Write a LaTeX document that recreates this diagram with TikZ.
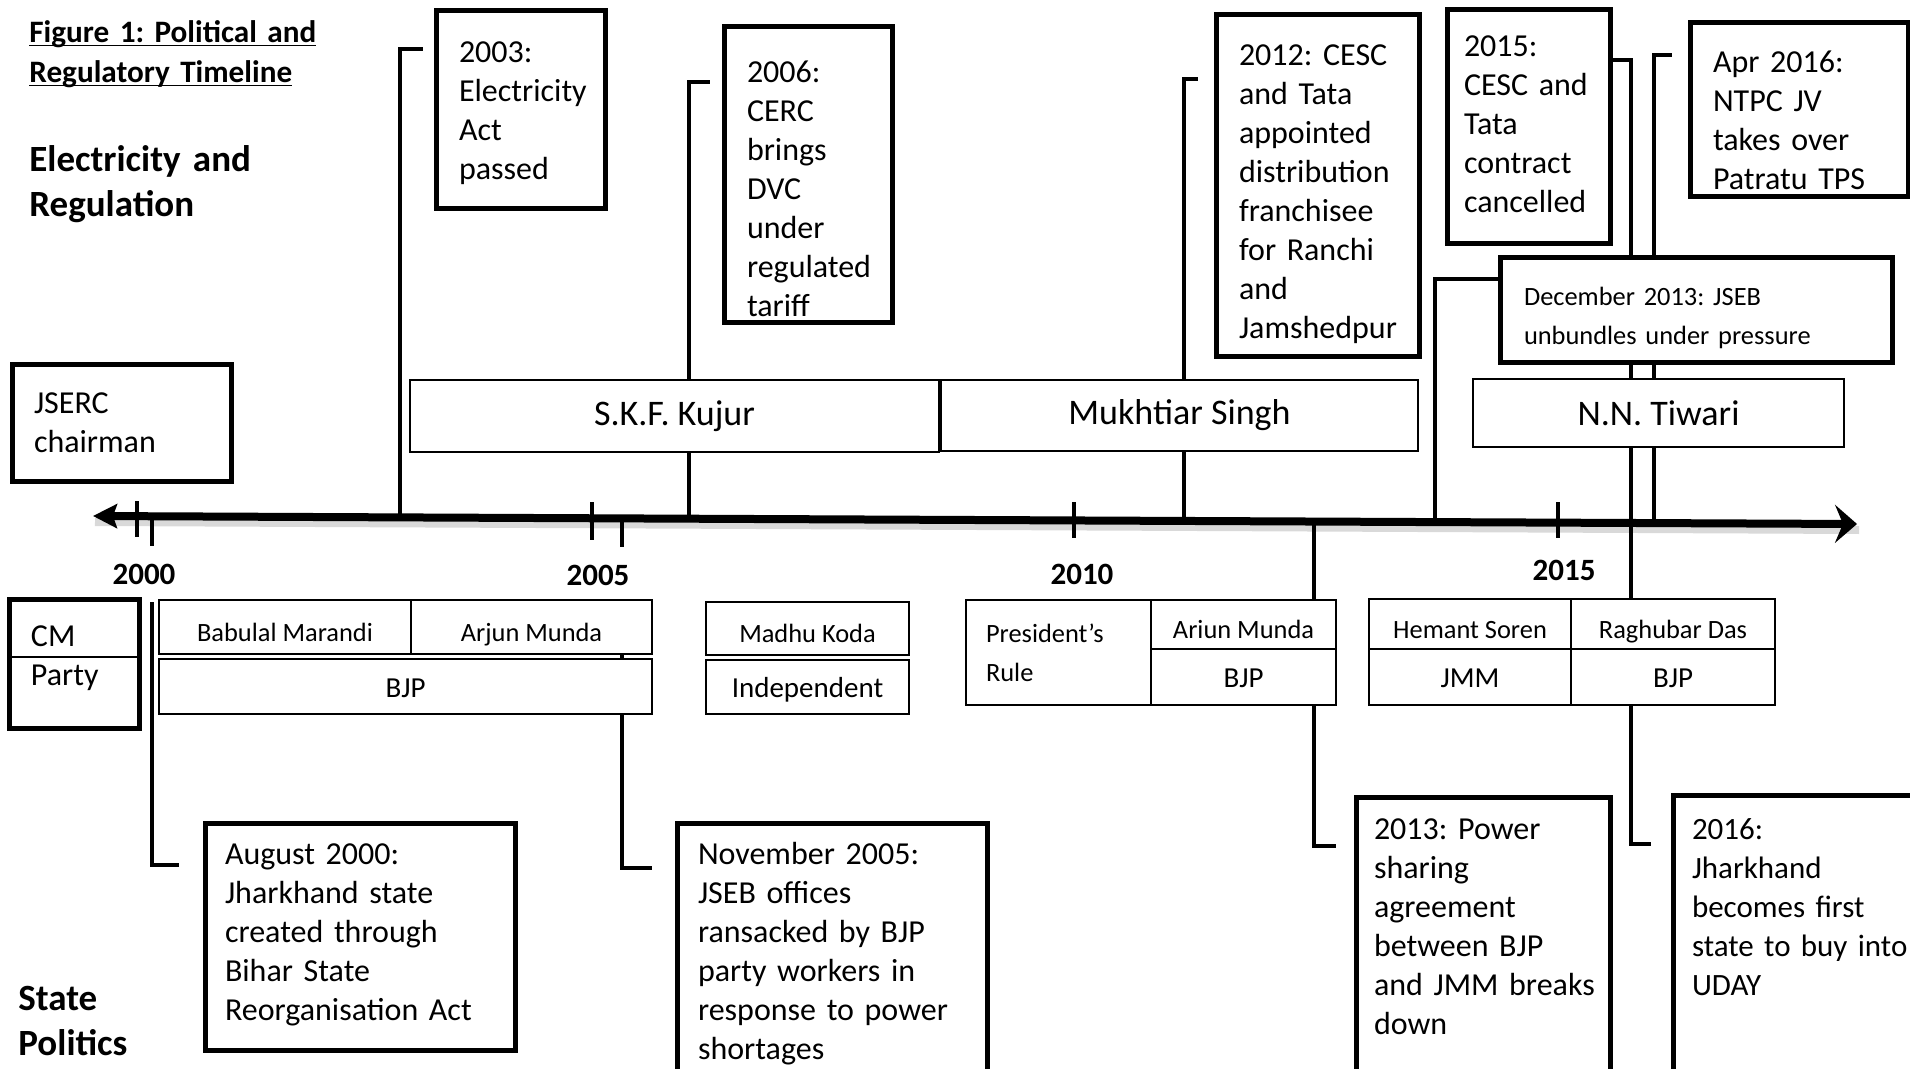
\documentclass[tikz,border=0pt]{standalone}
\usepackage{fontspec}
\setmainfont{Carlito}
\usepackage{tikz}
\usetikzlibrary{arrows.meta, calc, backgrounds}

\tikzset{
  evbox/.style={draw, line width=2.5pt, fill=white, anchor=north west, align=left, inner ysep=0pt, outer sep=0pt, font=\fontsize{16}{19.5}\selectfont},
  namebox/.style={draw, line width=1.1pt, fill=white, anchor=north west, inner sep=0pt, outer sep=0pt, font=\fontsize{18}{22}\selectfont},
  cmname/.style={draw, line width=1.1pt, fill=white, anchor=north west, inner sep=0pt, outer sep=0pt, text height=14pt, text depth=0pt, font=\fontsize{13.2}{19.5}\selectfont},
  partyname/.style={cmname, text height=10.5pt, text depth=0pt, font=\fontsize{14.5}{17}\selectfont},
  yearlbl/.style={fill=white, inner sep=0pt, minimum width=34pt, minimum height=28pt, font=\fontsize{15.5}{18}\selectfont\bfseries},
  headlbl/.style={anchor=base west, align=left, inner sep=0pt, font=\fontsize{18.5}{22.5}\selectfont\bfseries},
  link/.style={line width=1.8pt},
  yeartick/.style={line width=2pt}
}

\begin{document}
\frenchspacing
\begin{tikzpicture}[x=0.5pt, y=-0.5pt]
    \useasboundingbox (0,0) rectangle (1910,1069);

    % Headings
    \node[anchor=base west, align=left, text width=160pt, inner sep=0pt, font=\fontsize{15.6}{20}\selectfont\bfseries] (title) at (29,43) {\underline{\smash{Figure 1: Political and}}\\\underline{\smash{Regulatory Timeline}}};
    \node[headlbl, text width=150pt] (elec) at (29,172) {Electricity and\\Regulation};
    \node[headlbl, text width=100pt] (state) at (18,1010) {State\\Politics};

    % Time axis
    \coordinate (tl) at (93,516);
    \coordinate (tr) at (1857,524);
    \draw[{Stealth[length=12pt, width=12pt, inset=2pt]}-{Stealth[length=11pt, width=19pt, inset=4pt]}, line width=4pt] (tl) -- (tr);
    \coordinate (a2000) at (152,516.3);
    \coordinate (a2003) at (400,517.4);
    \coordinate (a2005) at (622,518.4);
    \coordinate (a2006) at (689,518.7);
    \coordinate (a2012) at (1184,520.9);
    \coordinate (a2013p) at (1314,521.5);
    \coordinate (a2013d) at (1435,522.1);
    \coordinate (a2015) at (1631,523);
    \coordinate (a2016a) at (1654,523.1);

    \draw[yeartick] (137,501) -- (137,537);
    \draw[yeartick] (592,502) -- (592,540);
    \draw[yeartick] (1074,502) -- (1074,538);
    \draw[yeartick] (1558,502) -- (1558,538);

    \node[yearlbl] (y2000) at (144,574) {2000};
    \node[yearlbl] (y2005) at (598,575) {2005};
    \node[yearlbl] (y2010) at (1082,574) {2010};
    \node[yearlbl] (y2015) at (1564,570) {2015};

    % Regulation events
    \node[evbox, inner xsep=11pt, text width=87.5pt, text height=24.25pt, text depth=33.75pt] (jserc) at (12,365) {JSERC\\chairman};
    \node[evbox, inner xsep=11.5pt, text width=61.5pt, text height=25.75pt, text depth=73.25pt] (ev2003) at (436,11) {2003:\\Electricity\\Act\\passed};
    \node[evbox, inner xsep=11.5pt, text width=61pt, text height=27.75pt, text depth=120.25pt] (ev2006) at (724,27) {2006:\\CERC\\brings\\DVC\\under\\regulated\\tariff};
    \node[evbox, inner xsep=11.5pt, text width=78.5pt, text height=25.25pt, text depth=145.75pt] (ev2012) at (1216,15) {2012: CESC\\and Tata\\appointed\\distribution\\franchisee\\for Ranchi\\and\\Jamshedpur};
    \node[evbox, inner xsep=8.5pt, text width=64.5pt, text height=23.25pt, text depth=93.75pt] (ev2015) at (1447,10) {2015:\\CESC and\\Tata\\contract\\cancelled};
    \node[evbox, inner xsep=11.5pt, text width=86pt, text height=24.75pt, text depth=62.25pt] (ev2016a) at (1690,23) {Apr 2016:\\NTPC JV\\takes over\\Patratu TPS};
    \node[evbox, font=\fontsize{13.2}{19.5}\selectfont, inner xsep=12pt, text width=172pt, text height=24pt, text depth=28.5pt] (ev2013d) at (1500,258) {December 2013: JSEB\\unbundles under pressure};

    \node[namebox, minimum width=264.5pt, minimum height=36pt] (kujur) at (410,380) {S.K.F. Kujur};
    \node[namebox, minimum width=238.5pt, minimum height=35.5pt] (singh) at (941,380) {Mukhtiar Singh};
    \node[namebox, minimum width=185.5pt, minimum height=34pt] (tiwari) at (1473,379) {N.N. Tiwari};

    % Chief ministers and parties
    \node[evbox, inner xsep=11pt, text width=43pt, text height=23.75pt, text depth=40.75pt] (cm) at (9,599) {CM\\Party};
    \draw[line width=1.1pt] ([yshift=-29pt]cm.north west) -- ([yshift=-29pt]cm.north east);

    \node[cmname, minimum width=126pt, minimum height=27pt] (babulal) at (159,600) {Babulal Marandi};
    \node[cmname, minimum width=120.5pt, minimum height=27pt] (arjun) at (411,600) {Arjun Munda};
    \node[partyname, minimum width=246.5pt, minimum height=27.5pt] (bjpa) at (159,659) {BJP};
    \node[cmname, minimum width=101.5pt, minimum height=26.5pt] (koda) at (706,602) {Madhu Koda};
    \node[partyname, minimum width=101.5pt, minimum height=27pt] (indep) at (706,660) {Independent};
    \node[evbox, line width=1.1pt, font=\fontsize{13.2}{19.5}\selectfont, inner xsep=10pt, text width=72.5pt, text height=21pt, text depth=31.5pt] (pres) at (966,600) {President’s\\Rule};
    \node[cmname, minimum width=92.5pt, minimum height=24.5pt] (ariun) at (1151,600) {Ariun Munda};
    \node[partyname, minimum width=92.5pt, minimum height=28pt] (bjpb) at (1151,649) {BJP};
    \node[cmname, minimum width=101pt, minimum height=25pt] (hemant) at (1369,599) {Hemant Soren};
    \node[partyname, minimum width=101pt, minimum height=28pt] (jmm) at (1369,649) {JMM};
    \node[cmname, minimum width=102pt, minimum height=25pt] (raghubar) at (1571,599) {Raghubar Das};
    \node[partyname, minimum width=102pt, minimum height=28pt] (bjpc) at (1571,649) {BJP};

    % Political events
    \node[evbox, inner xsep=10pt, text width=135pt, text height=20.75pt, text depth=92.75pt] (ev2000) at (205,823) {August 2000:\\Jharkhand state\\created through\\Bihar State\\Reorganisation Act};
    \node[evbox, inner xsep=10.5pt, text width=134pt, text height=20.75pt, text depth=110.25pt] (ev2005) at (677,823) {November 2005:\\JSEB offices\\ransacked by BJP\\party workers in\\response to power\\shortages};
    \node[evbox, inner xsep=9pt, text width=109pt, text height=21.25pt, text depth=122.75pt] (ev2013p) at (1356,797) {2013: Power\\sharing\\agreement\\between BJP\\\mbox{and JMM breaks}\\down};
    \node[evbox, font=\fontsize{15.5}{19.5}\selectfont, inner xsep=9.5pt, text width=112pt, text height=22.25pt, text depth=122.75pt] (ev2016b) at (1673,795) {2016:\\Jharkhand\\becomes first\\\mbox{state to buy into}\\UDAY};

    % Connectors
    \begin{scope}[on background layer]
        \draw[black!15, line width=4pt] ([shift={(2,6)}]tl) -- ([shift={(2,6)}]tr);
        \draw[link, shorten >=6.5pt] (a2003) |- ([yshift=-19pt]ev2003.north west);
        \draw[link, shorten >=7pt] (a2006) |- ([yshift=-27.5pt]ev2006.north west);
        \draw[link, shorten >=9pt] (a2012) |- ([yshift=-32pt]ev2012.north west);
        \draw[link] (a2013d) |- ([yshift=-10.5pt]ev2013d.north west);
        \draw[link, shorten >=9pt] (a2016a) |- ([yshift=-16pt]ev2016a.north west);
        \draw[link, shorten >=11pt] ([yshift=-25pt]ev2015.north east) -| (a2015) |- ([yshift=-24.5pt]ev2016b.north west);
        \draw[link, shorten >=13pt] (a2000) |- ([yshift=-21pt]ev2000.north west);
        \draw[link, shorten >=12.5pt] (a2005) |- ([yshift=-22.5pt]ev2005.north west);
        \draw[link, shorten >=10pt] (a2013p) |- ([yshift=-24.5pt]ev2013p.north west);
    \end{scope}
\end{tikzpicture}
\end{document}
